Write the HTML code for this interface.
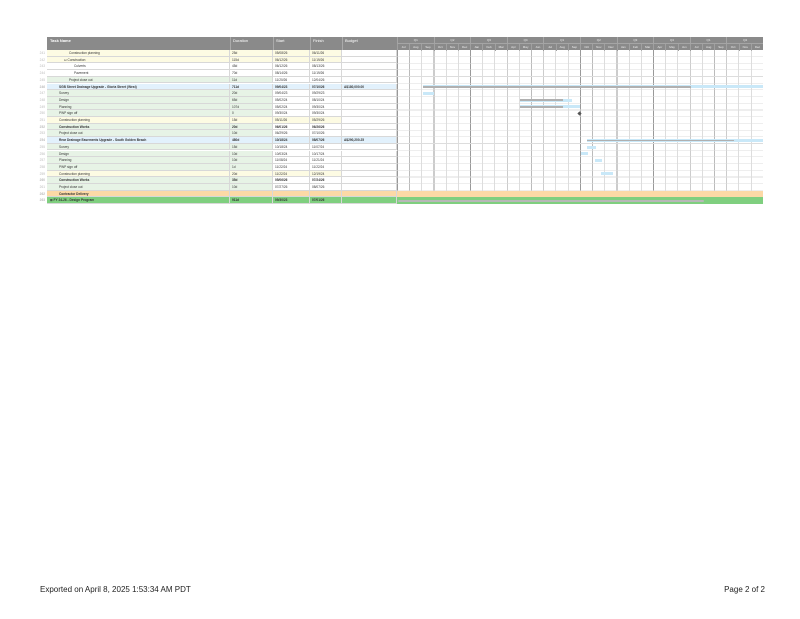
<!DOCTYPE html>
<html><head><meta charset="utf-8"><style>
body{margin:0;width:800px;height:619px;background:#fff;position:relative;overflow:hidden;font-family:"Liberation Sans",sans-serif;}
.a{position:absolute;}
.hd{position:absolute;top:37px;height:13px;background:#8a8a8a;color:#fff;font-size:4px;}
.r{position:absolute;left:30px;width:733px;height:6.7px;font-size:3.2px;line-height:6.7px;}
.c{position:absolute;top:0;height:6.7px;border-right:1px solid #d8d8d8;border-bottom:1px solid #d8d8d8;box-sizing:border-box;padding-left:2px;white-space:nowrap;overflow:hidden;color:#333;}
.n{left:0;width:17px;color:#bbb;border:none;text-align:right;padding-right:2px}
.t{left:17px;width:183px}.d{left:200px;width:43px}.s{left:243px;width:37px}.f{left:280px;width:32px}.b{left:312px;width:55px}
.b2{font-weight:bold}
.Y{background:#fdfbe3}.G{background:#e7f3e6}.B{background:#e2f1fc}.W{background:#fff}.O{background:#fcd9a6}.K{background:#7fcf7f}
.bar{position:absolute;height:3px;background:#c9e8f8;}
.gr{position:absolute;height:1.5px;background:#b0b0b0;}
.q,.m{position:absolute;display:flex;left:397px;width:366px;color:#eee;font-size:3px;}
.q{top:37px;height:6px;line-height:6px}.m{top:43px;height:7px;line-height:7px;border-top:0.6px solid #a5a5a5}
.q span{flex:1;text-align:center;border-left:0.6px solid #a5a5a5}
.m span{flex:1;text-align:center;border-left:0.6px solid #a0a0a0}
</style></head><body>
<div class="hd" style="left:30px;width:17px;background:#fff"></div>
<div class="hd" style="left:47px;width:183px;font-weight:bold;padding:1px 3px;box-sizing:border-box">Task Name</div>
<div class="hd" style="left:230px;width:43px;padding:1px 2px;box-sizing:border-box;border-left:1px solid #aaa">Duration</div>
<div class="hd" style="left:273px;width:37px;padding:1px 2px;box-sizing:border-box;border-left:1px solid #aaa">Start</div>
<div class="hd" style="left:310px;width:32px;padding:1px 2px;box-sizing:border-box;border-left:1px solid #aaa">Finish</div>
<div class="hd" style="left:342px;width:55px;padding:1px 2px;box-sizing:border-box;border-left:1px solid #aaa">Budget</div>
<div class="hd" style="left:397px;width:366px;background:#8a8a8a;"></div>
<div class="q"><span>Q1</span><span>Q2</span><span>Q3</span><span>Q4</span><span>Q1</span><span>Q2</span><span>Q3</span><span>Q4</span><span>Q1</span><span>Q2</span></div>
<div class="m"><span>Jul</span><span>Aug</span><span>Sep</span><span>Oct</span><span>Nov</span><span>Dec</span><span>Jan</span><span>Feb</span><span>Mar</span><span>Apr</span><span>May</span><span>Jun</span><span>Jul</span><span>Aug</span><span>Sep</span><span>Oct</span><span>Nov</span><span>Dec</span><span>Jan</span><span>Feb</span><span>Mar</span><span>Apr</span><span>May</span><span>Jun</span><span>Jul</span><span>Aug</span><span>Sep</span><span>Oct</span><span>Nov</span><span>Dec</span></div>
<div class="a" style="left:397px;top:50px;width:366px;height:154px;background:repeating-linear-gradient(90deg,#bbb 0 0.6px,transparent 0.6px 12.2px);"></div>
<div class="a" style="left:397px;top:50px;width:366px;height:154px;background:repeating-linear-gradient(90deg,#999 0 0.8px,transparent 0.8px 36.6px);"></div>
<div class="a" style="left:397px;top:50px;width:366px;height:154px;background:repeating-linear-gradient(180deg,transparent 0 6.1px,#ddd 6.1px 6.7px);"></div>

<div class="r" style="top:50px"><div class="c n">241</div><div class="c t Y" style="padding-left:22px">Construction planning</div><div class="c d Y">25d</div><div class="c s Y">05/08/26</div><div class="c f Y">06/11/26</div><div class="c b W"></div></div>
<div class="r" style="top:56.7px"><div class="c n">242</div><div class="c t Y" style="padding-left:17px">⊟ Construction</div><div class="c d Y">115d</div><div class="c s Y">06/12/26</div><div class="c f Y">11/19/26</div><div class="c b W"></div></div>
<div class="r" style="top:63.4px"><div class="c n">243</div><div class="c t W" style="padding-left:27px">Culverts</div><div class="c d W">45d</div><div class="c s W">06/12/26</div><div class="c f W">08/13/26</div><div class="c b W"></div></div>
<div class="r" style="top:70.1px"><div class="c n">244</div><div class="c t W" style="padding-left:27px">Pavement</div><div class="c d W">70d</div><div class="c s W">08/14/26</div><div class="c f W">11/19/26</div><div class="c b W"></div></div>
<div class="r" style="top:76.8px"><div class="c n">245</div><div class="c t G" style="padding-left:22px">Project close out</div><div class="c d G">11d</div><div class="c s W">11/20/26</div><div class="c f W">12/04/26</div><div class="c b W"></div></div>
<div class="r b2" style="top:83.5px"><div class="c n">246</div><div class="c t B" style="padding-left:12px">SGB Street Drainage Upgrade - Gloria Street (West)</div><div class="c d B">711d</div><div class="c s B">09/04/23</div><div class="c f B">07/10/26</div><div class="c b B">A$180,000.00</div></div>
<div class="r" style="top:90.2px"><div class="c n">247</div><div class="c t G" style="padding-left:12px">Survey</div><div class="c d G">20d</div><div class="c s W">09/04/23</div><div class="c f W">09/29/23</div><div class="c b W"></div></div>
<div class="r" style="top:96.9px"><div class="c n">248</div><div class="c t G" style="padding-left:12px">Design</div><div class="c d G">65d</div><div class="c s W">05/02/24</div><div class="c f W">08/10/24</div><div class="c b W"></div></div>
<div class="r" style="top:103.6px"><div class="c n">249</div><div class="c t G" style="padding-left:12px">Planning</div><div class="c d G">107d</div><div class="c s W">05/02/24</div><div class="c f W">09/30/24</div><div class="c b W"></div></div>
<div class="r" style="top:110.3px"><div class="c n">250</div><div class="c t G" style="padding-left:12px">PWP sign off</div><div class="c d G">0</div><div class="c s W">09/30/24</div><div class="c f W">09/30/24</div><div class="c b W"></div></div>
<div class="r" style="top:117px"><div class="c n">251</div><div class="c t Y" style="padding-left:12px">Construction planning</div><div class="c d Y">15d</div><div class="c s Y">05/11/26</div><div class="c f Y">05/29/26</div><div class="c b W"></div></div>
<div class="r b2" style="top:123.7px"><div class="c n">252</div><div class="c t G" style="padding-left:12px">Construction Works</div><div class="c d G">20d</div><div class="c s W">06/01/26</div><div class="c f W">06/26/26</div><div class="c b W"></div></div>
<div class="r" style="top:130.4px"><div class="c n">253</div><div class="c t G" style="padding-left:12px">Project close out</div><div class="c d G">10d</div><div class="c s W">06/29/26</div><div class="c f W">07/10/26</div><div class="c b W"></div></div>
<div class="r b2" style="top:137.1px"><div class="c n">254</div><div class="c t B" style="padding-left:12px">Rear Drainage Easements Upgrade - South Golden Beach</div><div class="c d B">480d</div><div class="c s B">10/18/24</div><div class="c f B">08/07/26</div><div class="c b B">A$290,200.25</div></div>
<div class="r" style="top:143.8px"><div class="c n">255</div><div class="c t G" style="padding-left:12px">Survey</div><div class="c d G">15d</div><div class="c s W">10/18/24</div><div class="c f W">11/07/24</div><div class="c b W"></div></div>
<div class="r" style="top:150.5px"><div class="c n">256</div><div class="c t G" style="padding-left:12px">Design</div><div class="c d G">10d</div><div class="c s W">10/03/24</div><div class="c f W">10/17/24</div><div class="c b W"></div></div>
<div class="r" style="top:157.2px"><div class="c n">257</div><div class="c t G" style="padding-left:12px">Planning</div><div class="c d G">10d</div><div class="c s W">11/08/24</div><div class="c f W">11/21/24</div><div class="c b W"></div></div>
<div class="r" style="top:163.9px"><div class="c n">258</div><div class="c t G" style="padding-left:12px">PWP sign off</div><div class="c d G">1d</div><div class="c s W">11/22/24</div><div class="c f W">11/22/24</div><div class="c b W"></div></div>
<div class="r" style="top:170.6px"><div class="c n">259</div><div class="c t Y" style="padding-left:12px">Construction planning</div><div class="c d Y">20d</div><div class="c s Y">11/22/24</div><div class="c f Y">12/19/24</div><div class="c b W"></div></div>
<div class="r b2" style="top:177.3px"><div class="c n">260</div><div class="c t G" style="padding-left:12px">Construction Works</div><div class="c d G">35d</div><div class="c s W">05/06/26</div><div class="c f W">07/24/26</div><div class="c b W"></div></div>
<div class="r" style="top:184px"><div class="c n">261</div><div class="c t G" style="padding-left:12px">Project close out</div><div class="c d G">10d</div><div class="c s W">07/27/26</div><div class="c f W">08/07/26</div><div class="c b W"></div></div>
<div class="r b2" style="top:190.7px"><div class="c n">262</div><div class="c t O" style="padding-left:12px">Contractor Delivery</div><div class="c d O"></div><div class="c s O"></div><div class="c f O"></div><div class="c b O"></div></div>
<div class="r b2" style="top:197.4px"><div class="c n">263</div><div class="c t K" style="padding-left:3px">⊞ FY 24-26 - Design Program</div><div class="c d K">911d</div><div class="c s K">09/30/23</div><div class="c f K">07/01/26</div><div class="c b K"></div></div>

<div class="a" style="left:397px;top:190.7px;width:366px;height:6.7px;background:#fcd9a6"></div>
<div class="a" style="left:397px;top:197.4px;width:366px;height:6.7px;background:#7fcf7f"></div>
<div class="a" style="left:398px;top:199.5px;width:306px;height:2px;background:#b8b8b8;border-radius:1px"></div>

<div class="bar" style="left:423px;top:85.3px;width:340px"></div><div class="gr" style="left:423px;top:86px;width:268px"></div>
<div class="bar" style="left:423px;top:92px;width:11px"></div>
<div class="bar" style="left:520px;top:98.7px;width:52px"></div><div class="gr" style="left:520px;top:99.4px;width:43px"></div>
<div class="bar" style="left:520px;top:105.4px;width:60px"></div><div class="gr" style="left:520px;top:106.1px;width:43px"></div>
<div class="a" style="left:578px;top:111.8px;width:3px;height:3px;background:#555;transform:rotate(45deg)"></div>
<div class="bar" style="left:587px;top:138.9px;width:176px"></div><div class="gr" style="left:587px;top:139.6px;width:147px"></div>
<div class="bar" style="left:587px;top:145.6px;width:9px"></div>
<div class="bar" style="left:581px;top:152.3px;width:7px"></div>
<div class="bar" style="left:595px;top:159px;width:7px"></div>
<div class="bar" style="left:601px;top:172.4px;width:12px"></div>

<div class="a" style="left:40px;top:585px;font-size:8px;color:#222">Exported on April 8, 2025 1:53:34 AM PDT</div>
<div class="a" style="right:35px;top:585px;font-size:8px;color:#222">Page 2 of 2</div>
</body></html>
